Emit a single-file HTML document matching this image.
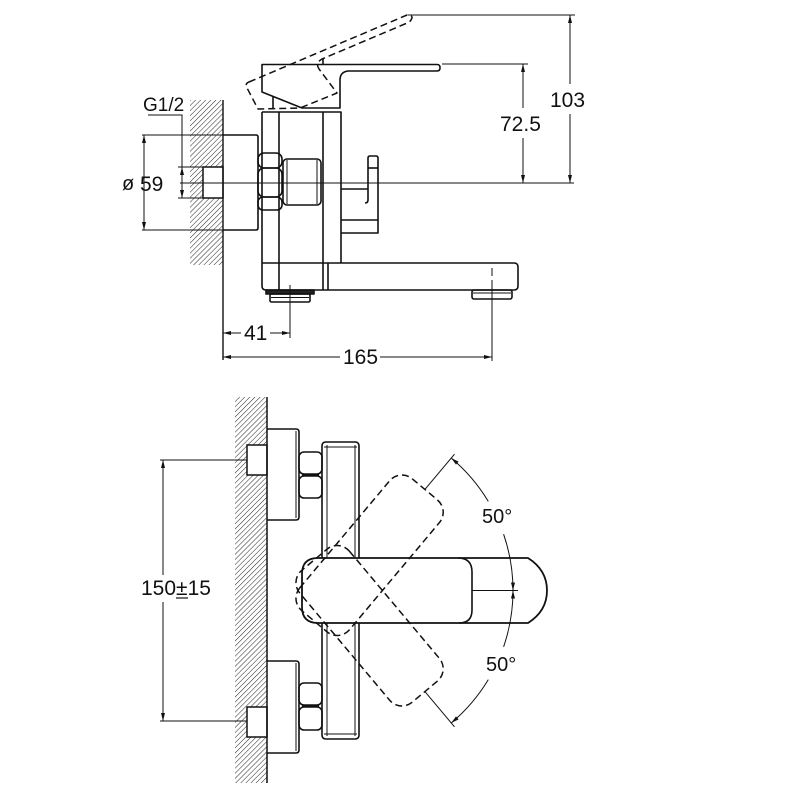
<!DOCTYPE html>
<html><head><meta charset="utf-8"><style>
html,body{margin:0;padding:0;background:#fff;}
svg{display:block;}
text{font-family:"Liberation Sans",Arial,sans-serif;fill:#111;}
</style></head><body>
<svg width="800" height="800" viewBox="0 0 800 800" xmlns="http://www.w3.org/2000/svg">
<defs>
<pattern id="h" patternUnits="userSpaceOnUse" width="3.6" height="3.6" patternTransform="rotate(45)">
<line x1="0" y1="0" x2="0" y2="3.6" stroke="#222" stroke-width="1"/>
</pattern>
</defs>
<rect width="800" height="800" fill="#fff"/>

<!-- ================= TOP VIEW ================= -->
<rect x="190" y="100" width="33" height="165" fill="url(#h)"/>
<rect x="203" y="167" width="20" height="31" fill="#fff" stroke="#111" stroke-width="1.5"/>
<line x1="223" y1="100" x2="223" y2="360" stroke="#111" stroke-width="1.4"/>

<g fill="none" stroke="#111" stroke-width="1.6" stroke-linejoin="round">
<!-- flange -->
<path d="M223,135 L256,135 Q258,135 258,137 L258,228 Q258,230 256,230 L223,230"/>
<!-- hex -->
<rect x="258" y="153" width="24" height="15" rx="6"/>
<rect x="258" y="168" width="24" height="29" rx="6"/>
<rect x="258" y="197" width="24" height="13" rx="5"/>
<!-- fitting -->
<rect x="283" y="159" width="38" height="46" rx="4"/>
<line x1="287" y1="160" x2="287" y2="204" stroke-width="1"/>
<line x1="317" y1="160" x2="317" y2="204" stroke-width="1"/>
<!-- body -->
<path d="M262,112 L341,112 L341,263"/>
<path d="M262,112 L262,286 Q262,290 266,290"/>
<line x1="279" y1="112" x2="279" y2="290"/>
<line x1="323" y1="112" x2="323" y2="290"/>
<line x1="328" y1="263" x2="328" y2="290"/>
<!-- spout -->
<path d="M262,263 L514,263 Q518,263 518,267 L518,286 Q518,290 514,290 L266,290"/>
<!-- aerators -->
<rect x="266" y="290" width="48" height="4" fill="#222"/>
<rect x="270" y="294" width="40" height="8" rx="1.5"/>
<line x1="271" y1="297.5" x2="309" y2="297.5" stroke-width="1"/>
<rect x="472" y="290" width="40" height="9" rx="2"/>
<line x1="473" y1="293" x2="511" y2="293" stroke-width="1"/>
<!-- side handle -->
<path d="M341,189 L368,189 L368,158 Q368,156 370,156 L376,156 Q378,156 378,158 L378,233 L341,233"/>
<line x1="368" y1="168" x2="378" y2="168"/>
<line x1="341" y1="220" x2="378" y2="220"/>
<path d="M368,189 L368,200 Q368,203 365,203"/>
<!-- top handle solid -->
<path d="M262,64.5 L437,64.5 Q440,64.5 440,67.5 L440,68 Q440,71 437,71 L348,71 Q340,72 340,80 L340,108 L302,108 L262,92 Z"/>
<line x1="273" y1="96" x2="273" y2="108"/>
<line x1="323" y1="58" x2="323" y2="64"/>
<!-- top handle dashed -->
<path d="M249,82 L407,15 Q412,14 412,18 L411,20 Q410,22 406,23.5 L322,59 Q315,63 319,69 L337,93 L300,108 L258,109 L246,86 Q246,83 249,82 Z" stroke-dasharray="7 4" stroke-width="1.5"/>
</g>

<!-- top view dims -->
<g stroke="#111" stroke-width="1" fill="none">
<line x1="180" y1="183" x2="574" y2="183"/>
<line x1="142" y1="135" x2="223" y2="135"/>
<line x1="142" y1="230" x2="223" y2="230"/>
<line x1="144" y1="135" x2="144" y2="230"/>
<polyline points="148,115 182,115 182,198"/>
<line x1="178" y1="167" x2="203" y2="167"/>
<line x1="178" y1="198" x2="203" y2="198"/>
<line x1="408" y1="15" x2="575" y2="15"/>
<line x1="570" y1="15" x2="570" y2="84"/>
<line x1="570" y1="114" x2="570" y2="183"/>
<line x1="442" y1="64" x2="528" y2="64"/>
<line x1="523" y1="64" x2="523" y2="108"/>
<line x1="523" y1="138" x2="523" y2="183"/>
<line x1="290" y1="285" x2="290" y2="338"/>
<line x1="492" y1="268" x2="492" y2="276"/>
<line x1="492" y1="280" x2="492" y2="361"/>
<line x1="223" y1="333" x2="241" y2="333"/>
<line x1="270" y1="333" x2="290" y2="333"/>
<line x1="223" y1="357" x2="340" y2="357"/>
<line x1="380" y1="357" x2="492" y2="357"/>
</g>
<g fill="#111">
<polygon points="144,135 142,143 146,143"/>
<polygon points="144,230 142,222 146,222"/>
<polygon points="182,167 180,175 184,175"/>
<polygon points="182,198 180,190 184,190"/>
<polygon points="570,15 568,23 572,23"/>
<polygon points="570,183 568,175 572,175"/>
<polygon points="523,64 521,72 525,72"/>
<polygon points="523,183 521,175 525,175"/>
<polygon points="223,333 231,331 231,335"/>
<polygon points="290,333 282,331 282,335"/>
<polygon points="223,357 231,355 231,359"/>
<polygon points="492,357 484,355 484,359"/>
</g>
<text x="143" y="111" font-size="19">G1/2</text>
<text x="122" y="190" font-size="20">ø</text>
<text x="140" y="191" font-size="21">59</text>
<text x="550" y="107" font-size="21">103</text>
<text x="500" y="131" font-size="21">72.5</text>
<text x="244" y="340" font-size="21">41</text>
<text x="343" y="364" font-size="21">165</text>

<!-- ================= FRONT VIEW ================= -->
<rect x="235" y="397" width="32" height="386" fill="url(#h)"/>
<rect x="247" y="445" width="20" height="30" fill="#fff" stroke="#111" stroke-width="1.5"/>
<rect x="247" y="707" width="20" height="30" fill="#fff" stroke="#111" stroke-width="1.5"/>
<line x1="267" y1="397" x2="267" y2="783" stroke="#111" stroke-width="1.5"/>

<g fill="none" stroke="#111" stroke-width="1.6" stroke-linejoin="round">
<!-- flanges -->
<path d="M267,429 L296,429 Q299,429 299,432 L299,517 Q299,520 296,520 L267,520"/>
<line x1="296" y1="431" x2="296" y2="518" stroke-width="1"/>
<path d="M267,661 L296,661 Q299,661 299,664 L299,750 Q299,753 296,753 L267,753"/>
<line x1="296" y1="663" x2="296" y2="751" stroke-width="1"/>
<!-- hexes -->
<rect x="299" y="452" width="23" height="22" rx="5"/>
<rect x="299" y="476" width="23" height="22" rx="5"/>
<line x1="302" y1="475" x2="319" y2="475" stroke-width="1"/>
<rect x="299" y="683" width="23" height="22" rx="5"/>
<rect x="299" y="707" width="23" height="23" rx="5"/>
<line x1="302" y1="706" x2="319" y2="706" stroke-width="1"/>
<!-- bar -->
<path d="M322,558 L322,446 Q322,442 326,442 L355,442 Q359,442 359,446 L359,558"/>
<line x1="327" y1="445" x2="327" y2="558" stroke-width="1"/>
<line x1="355" y1="445" x2="355" y2="558" stroke-width="1"/>
<line x1="324" y1="447" x2="357" y2="447" stroke-width="1"/>
<path d="M322,622 L322,735 Q322,739 326,739 L355,739 Q359,739 359,735 L359,622"/>
<line x1="327" y1="622" x2="327" y2="736" stroke-width="1"/>
<line x1="355" y1="622" x2="355" y2="736" stroke-width="1"/>
<line x1="324" y1="734" x2="357" y2="734" stroke-width="1"/>
<!-- lever/spout -->
<path d="M318,558 L528,558 Q547,570 547,590.5 Q547,611 528,623 L318,623 Q302,623 302,607 L302,574 Q302,558 318,558 Z" fill="#fff" stroke-width="1.8"/>
<path d="M458,558 Q472,558 472,572 L472,610 Q472,623 459,623" stroke-width="1.6"/>
<!-- dashed levers -->
<rect x="300" y="558" width="172" height="65" rx="16" transform="rotate(-50 340 590.5)" stroke-dasharray="7 4" stroke-width="1.5"/>
<rect x="300" y="558" width="172" height="65" rx="16" transform="rotate(50 340 590.5)" stroke-dasharray="7 4" stroke-width="1.5"/>
</g>

<!-- front view dims -->
<g stroke="#111" stroke-width="1" fill="none">
<line x1="160" y1="460" x2="247" y2="460"/>
<line x1="160" y1="721" x2="247" y2="721"/>
<line x1="163" y1="460" x2="163" y2="575"/>
<line x1="163" y1="602" x2="163" y2="721"/>
<line x1="472" y1="590.5" x2="518" y2="590.5"/>
<path d="M451.2,458 A173,173 0 0 1 488.3,501.4"/>
<path d="M503.6,534.2 A173,173 0 0 1 513,590.5"/>
<path d="M513,590.5 A173,173 0 0 1 503.6,646.8"/>
<path d="M488.3,679.6 A173,173 0 0 1 451.2,723"/>
<line x1="424.9" y1="489.4" x2="454.5" y2="454.2"/>
<line x1="424.9" y1="691.6" x2="454.5" y2="726.8"/>
</g>
<g fill="#111">
<polygon points="163,460 161,468 165,468"/>
<polygon points="163,721 161,713 165,713"/>
<polygon points="451.2,458 458.6,461.6 456,464.6"/>
<polygon points="513,590.5 511,582.5 515,582.5"/>
<polygon points="513,590.5 511,598.5 515,598.5"/>
<polygon points="451.2,723 458.6,719.4 456,716.4"/>
</g>
<text x="141" y="595" font-size="21">150±15</text>
<line x1="176" y1="598" x2="188" y2="598" stroke="#111" stroke-width="1.2"/>
<text x="482" y="523" font-size="20">50°</text>
<text x="486" y="671" font-size="20">50°</text>
</svg>
</body></html>
